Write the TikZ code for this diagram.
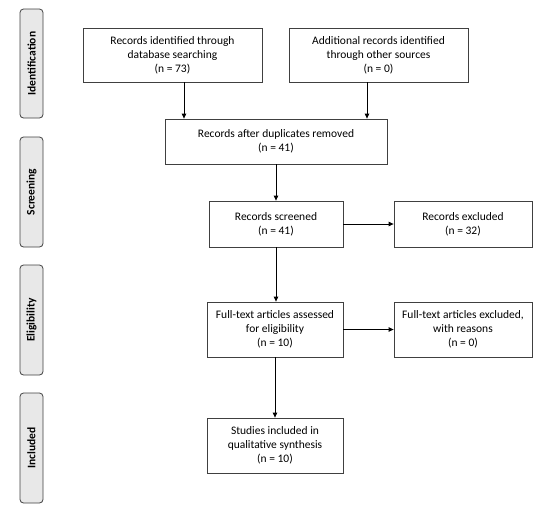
\documentclass[tikz,border=0pt]{standalone}
\usepackage{fontspec}
\setmainfont{Carlito}
\usetikzlibrary{arrows.meta}
\begin{document}
\begin{tikzpicture}[x=1pt,y=-1pt,
  box/.style={draw=black!75,line width=0.8pt,fill=white,align=center,inner sep=2pt,
    font=\fontsize{11.5}{14}\selectfont},
  phase/.style={draw=black!75,line width=0.8pt,fill=black!9,rounded corners=3.5pt,rotate=90,
    minimum height=23pt,inner sep=0pt,font=\fontsize{11.5}{12}\selectfont\bfseries},
  arr/.style={-{Triangle[length=5pt,width=4.5pt]},line width=0.8pt,black}]
\useasboundingbox (0,0) rectangle (550,515);
% phase labels
\node[phase,minimum width=109pt] (pid) at (31.5,63.5) {Identification};
\node[phase,minimum width=110pt] (psc) at (31.5,192) {Screening};
\node[phase,minimum width=110pt] (pel) at (31.5,320) {Eligibility};
\node[phase,minimum width=110pt] (pin) at (31.5,448) {Included};
% boxes
\node[box,minimum width=179pt,minimum height=54pt] (b1) at (172.5,55) {Records identified through\\database searching\\(n = 73)};
\node[box,minimum width=179pt,minimum height=54pt] (b2) at (378.5,55) {Additional records identified\\through other sources\\(n = 0)};
\node[box,minimum width=222pt,minimum height=45pt] (b3) at (276,141.5) {Records after duplicates removed\\(n = 41)};
\node[box,minimum width=134pt,minimum height=46pt] (b4) at (276,224) {Records screened\\(n = 41)};
\node[box,minimum width=138pt,minimum height=46pt] (b5) at (463,224) {Records excluded\\(n = 32)};
\node[box,minimum width=136pt,minimum height=55pt] (b6) at (275,329.5) {Full-text articles assessed\\for eligibility\\(n = 10)};
\node[box,minimum width=138pt,minimum height=55pt] (b7) at (463,329.5) {Full-text articles excluded,\\with reasons\\(n = 0)};
\node[box,minimum width=136pt,minimum height=55pt] (b8) at (275,445.5) {Studies included in\\qualitative synthesis\\(n = 10)};
% arrows
\draw[arr] ([xshift=11.5pt]b1.south) -- ([xshift=11.5pt]b1.south |- b3.north);
\draw[arr] ([xshift=-11.5pt]b2.south) -- ([xshift=-11.5pt]b2.south |- b3.north);
\draw[arr] (b3.south) -- (b3.south |- b4.north);
\draw[arr] (b4.east) -- (b4.east -| b5.west);
\draw[arr] (b4.south) -- (b4.south |- b6.north);
\draw[arr] (b6.east) -- (b6.east -| b7.west);
\draw[arr] (b6.south) -- (b6.south |- b8.north);
\end{tikzpicture}
\end{document}
